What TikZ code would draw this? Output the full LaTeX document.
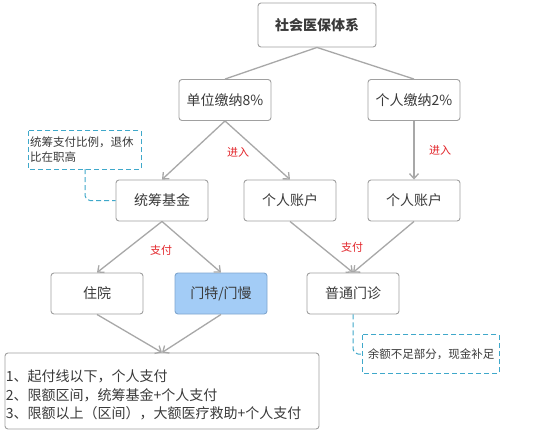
\documentclass[tikz,border=0pt]{standalone}
\usepackage{fontspec}
\setmainfont{Noto Sans CJK SC}
\usetikzlibrary{arrows.meta}
\definecolor{boxline}{HTML}{A0A0A0}
\definecolor{conn}{HTML}{A8A8A8}
\definecolor{txt}{HTML}{3A3A3A}
\definecolor{lbl}{HTML}{E3262B}
\definecolor{cyanl}{HTML}{3FA8CA}
\definecolor{blfill}{HTML}{A3CCF6}
\definecolor{blline}{HTML}{7FA6CF}
\begin{document}
\begin{tikzpicture}[x=1pt,y=-1pt,
  box/.style={draw=boxline, line width=0.9pt, rounded corners=3pt, minimum width=92pt, minimum height=41pt, text=txt, font=\fontsize{14}{16}\selectfont, inner sep=0pt},
  notebox/.style={inner sep=1pt, align=left, text=txt, font=\fontsize{11.5}{15}\selectfont},
  dashline/.style={draw=cyanl, dashed, dash pattern=on 5pt off 3pt, line width=1pt},
  conn/.style={draw=conn, line width=1.3pt},
  arr/.style={conn, -{Straight Barb[length=5pt,width=9pt,line width=1.3pt]}},
  dconn/.style={dashline, rounded corners=5pt},
  lab/.style={text=lbl, font=\fontsize{11}{13}\selectfont, inner sep=0pt}
]
\useasboundingbox[fill=white] (0,0) rectangle (551,431);

\node[box, minimum width=118pt, minimum height=44pt, font=\fontsize{14}{16}\selectfont\bfseries] (root) at (317,25) {社会医保体系};
\node[box] (dw) at (225,100) {单位缴纳8\%};
\node[box] (gr) at (414,100) {个人缴纳2\%};
\node[box] (tc) at (162,200.5) {统筹基金};
\node[box] (zh1) at (290,200.5) {个人账户};
\node[box] (zh2) at (414,200.5) {个人账户};
\node[box] (zy) at (97,293.5) {住院};
\node[box, fill=blfill, draw=blline] (mt) at (221,293.5) {门特/门慢};
\node[box] (pt) at (353,293.5) {普通门诊};

\node[notebox, minimum width=112pt, minimum height=38pt, text width=110pt] (n1) at (85,150) {\setlength{\lineskiplimit}{-30pt}统筹支付比例，退休\\比在职高};
\draw[dashline] (n1.north west) rectangle (n1.south east);
\node[notebox, minimum width=136pt, minimum height=38pt] (n2) at (431,354) {余额不足部分，现金补足};
\draw[dashline] (n2.north west) rectangle (n2.south east);

\node[draw=boxline, line width=0.9pt, rounded corners=3pt, minimum width=314pt, minimum height=76pt, inner sep=0pt] (bt) at (162,391) {};
\node[anchor=west, text width=312pt, align=left, inner sep=0pt, text=txt, font=\fontsize{14}{18.5}\selectfont] (btx) at ([xshift=1pt, yshift=-4pt]bt.west) {\setlength{\lineskiplimit}{-30pt}1、起付线以下，个人支付\\2、限额区间，统筹基金+个人支付\\3、限额以上（区间），大额医疗救助+个人支付};

\draw[conn] (root.south) -- (dw.north);
\draw[conn] (root.south) -- (gr.north);
\draw[arr] (dw.south) -- (tc.north);
\draw[arr] (dw.south) -- (zh1.north);
\draw[arr] (gr.south) -- (zh2.north);
\draw[arr] (tc.south) -- (zy.north);
\draw[arr] (tc.south) -- (mt.north);
\draw[arr] (zh1.south) -- (pt.north);
\draw[arr] (zh2.south) -- (pt.north);
\draw[arr] (zy.south) -- (bt.north);
\draw[arr] (mt.south) -- (bt.north);

\draw[dconn] (n1.south) |- (tc.west);
\draw[dconn] (pt.south) |- (n2.west);

\node[lab] (l1) at (238,152) {进入};
\node[lab] (l2) at (440,150) {进入};
\node[lab] (l3) at (161,250) {支付};
\node[lab] (l4) at (352,247) {支付};
\end{tikzpicture}
\end{document}
